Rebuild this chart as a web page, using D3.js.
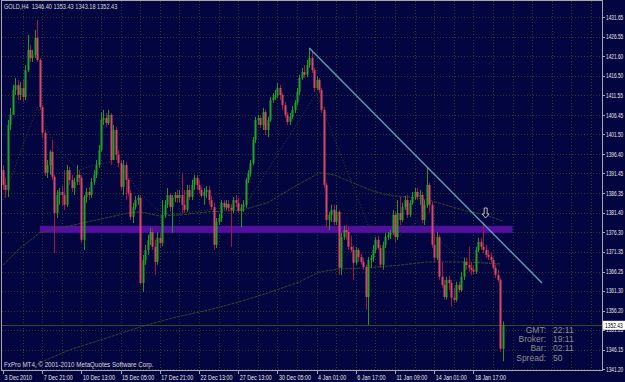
<!DOCTYPE html>
<html>
<head>
<meta charset="utf-8">
<script src="https://d3js.org/d3.v7.min.js"></script>
<style>
  html, body { margin: 0; padding: 0; background: #030540; }
  svg { display: block; font-family: "Liberation Sans", Arial, sans-serif; }
</style>
</head>
<body>
<div id="chart"></div>
<script>
// GOLD H4, one row per bar: [open, high, low, close]
const candles = [
  [1392.3,1393.6,1387.2,1388.5],[1388.5,1390.3,1385.2,1387.2],[1387.2,1405.2,1385.4,1403.9],[1403.9,1408.3,1402.6,1406.5],
  [1406.5,1414.2,1406.5,1412.9],[1412.9,1416.0,1411.6,1414.2],[1414.2,1415.5,1410.3,1411.6],[1411.6,1414.9,1410.3,1413.4],
  [1413.4,1415.5,1409.8,1411.1],[1411.1,1419.3,1410.3,1418.0],[1418.0,1427.0,1417.5,1423.2],[1423.2,1424.5,1420.1,1421.1],
  [1421.1,1423.2,1420.1,1421.9],[1421.9,1428.3,1421.1,1426.3],[1426.3,1430.9,1420.1,1420.6],[1420.6,1421.1,1407.8,1408.5],
  [1408.5,1409.0,1400.6,1401.9],[1401.9,1402.6,1390.8,1391.6],[1391.6,1394.9,1390.3,1393.6],[1393.6,1397.5,1391.1,1397.0],
  [1397.0,1400.1,1389.8,1390.6],[1390.6,1391.1,1371.0,1381.3],[1381.3,1387.2,1380.0,1385.9],[1385.9,1387.7,1383.4,1386.7],
  [1386.7,1388.2,1383.1,1385.9],[1385.9,1392.3,1382.1,1383.4],[1383.4,1393.6,1382.8,1392.3],[1392.3,1393.1,1388.5,1389.8],
  [1389.8,1391.1,1386.7,1387.7],[1387.7,1390.3,1385.9,1389.3],[1389.3,1393.6,1388.5,1391.1],[1391.1,1392.3,1388.5,1390.3],
  [1390.3,1390.8,1373.6,1374.4],[1374.4,1385.9,1371.8,1385.4],[1385.4,1387.7,1383.9,1386.7],[1386.7,1388.0,1384.6,1385.9],
  [1385.9,1390.3,1385.2,1389.3],[1389.3,1392.3,1388.5,1391.1],[1391.1,1394.9,1390.3,1393.6],[1393.6,1398.8,1392.9,1397.5],
  [1397.5,1407.2,1397.0,1405.2],[1405.2,1407.8,1403.9,1405.7],[1405.7,1407.0,1403.4,1404.4],[1404.4,1407.8,1403.9,1406.5],
  [1406.5,1407.0,1393.6,1394.9],[1394.9,1403.9,1394.9,1402.6],[1402.6,1403.4,1394.9,1396.2],[1396.2,1397.5,1393.1,1394.1],
  [1394.1,1394.9,1387.2,1388.0],[1388.0,1394.9,1385.9,1393.6],[1393.6,1394.4,1384.6,1389.8],[1389.8,1390.3,1385.7,1386.4],
  [1386.4,1387.2,1379.5,1380.3],[1380.3,1383.9,1378.7,1382.8],[1382.8,1385.7,1382.1,1384.6],[1384.6,1385.9,1383.4,1385.2],
  [1385.2,1385.9,1362.8,1363.3],[1363.3,1370.5,1361.0,1369.2],[1369.2,1373.1,1368.0,1371.8],[1371.8,1375.7,1370.5,1374.4],
  [1374.4,1377.5,1373.1,1376.4],[1376.4,1377.5,1371.8,1372.6],[1372.6,1374.4,1365.4,1368.7],[1368.7,1376.4,1368.0,1374.9],
  [1374.9,1376.2,1372.3,1373.6],[1373.6,1384.6,1372.8,1380.8],[1380.8,1384.6,1380.0,1383.4],[1383.4,1387.7,1382.6,1385.9],
  [1385.9,1386.4,1381.6,1382.8],[1382.8,1385.9,1376.2,1385.2],[1385.2,1386.7,1384.1,1385.9],[1385.9,1387.2,1383.9,1385.2],
  [1385.2,1387.2,1384.1,1385.9],[1385.9,1391.6,1381.3,1383.4],[1383.4,1387.2,1381.3,1382.1],[1382.1,1388.5,1381.6,1387.2],
  [1387.2,1388.5,1384.6,1385.4],[1385.4,1389.8,1384.6,1388.5],[1388.5,1391.1,1387.2,1390.3],[1390.3,1391.1,1387.2,1388.5],
  [1388.5,1389.8,1386.4,1387.2],[1387.2,1388.0,1385.2,1385.7],[1385.7,1387.7,1383.4,1386.7],[1386.7,1388.2,1385.2,1387.2],
  [1387.2,1388.2,1383.4,1384.6],[1384.6,1385.7,1382.1,1382.8],[1382.8,1383.9,1371.8,1373.1],[1373.1,1380.0,1372.3,1379.0],
  [1379.0,1381.1,1378.2,1380.0],[1380.0,1384.6,1379.0,1383.9],[1383.9,1384.6,1382.1,1382.8],[1382.8,1384.6,1382.1,1383.6],
  [1383.6,1384.6,1381.6,1382.6],[1382.6,1383.6,1372.6,1382.1],[1382.1,1385.4,1381.3,1384.6],[1384.6,1385.9,1382.8,1383.9],
  [1383.9,1385.2,1381.3,1381.8],[1381.8,1383.6,1377.7,1382.8],[1382.8,1384.6,1381.6,1383.4],[1383.4,1390.3,1382.6,1389.8],
  [1389.8,1392.3,1389.0,1391.6],[1391.6,1394.9,1390.6,1394.1],[1394.1,1400.8,1393.6,1400.1],[1400.1,1406.0,1399.3,1405.2],
  [1405.2,1406.5,1403.9,1405.7],[1405.7,1406.5,1403.1,1403.9],[1403.9,1408.3,1402.6,1407.2],[1407.2,1407.8,1401.3,1402.6],
  [1402.6,1406.0,1400.8,1405.2],[1405.2,1411.1,1404.7,1410.3],[1410.3,1412.1,1409.6,1411.1],[1411.1,1412.9,1410.3,1411.6],
  [1411.6,1414.7,1410.8,1413.4],[1413.4,1414.2,1410.3,1411.6],[1411.6,1412.1,1407.8,1409.0],[1409.0,1409.8,1405.7,1406.5],
  [1406.5,1407.2,1403.9,1404.7],[1404.7,1407.0,1403.9,1406.0],[1406.0,1408.8,1405.4,1407.8],[1407.8,1410.3,1407.0,1409.6],
  [1409.6,1413.4,1409.0,1412.4],[1412.4,1416.8,1411.6,1416.0],[1416.0,1418.6,1415.5,1417.5],[1417.5,1419.3,1416.0,1416.8],
  [1416.8,1420.6,1416.2,1419.3],[1419.3,1423.7,1418.6,1421.1],[1421.1,1422.7,1417.3,1418.0],[1418.0,1418.6,1412.4,1413.4],
  [1413.4,1416.5,1412.9,1415.5],[1415.5,1416.0,1412.1,1412.9],[1412.9,1413.4,1407.0,1407.8],[1407.8,1408.5,1387.7,1388.5],
  [1388.5,1389.0,1377.7,1379.5],[1379.5,1381.6,1376.9,1380.8],[1380.8,1383.4,1379.0,1382.1],[1382.1,1383.4,1378.2,1379.0],
  [1379.0,1383.4,1378.2,1381.6],[1381.6,1382.1,1365.4,1367.2],[1367.2,1376.2,1365.4,1375.1],[1375.1,1378.0,1374.4,1376.9],
  [1376.9,1378.2,1374.4,1376.4],[1376.4,1377.5,1371.8,1372.6],[1372.6,1375.4,1371.3,1371.8],[1371.8,1372.8,1364.1,1368.5],
  [1368.5,1372.6,1368.0,1371.8],[1371.8,1372.3,1368.7,1370.0],[1370.0,1370.8,1368.0,1368.7],[1368.7,1369.8,1366.7,1367.4],
  [1367.4,1368.0,1356.4,1359.7],[1359.7,1370.0,1352.5,1369.2],[1369.2,1370.5,1367.2,1369.8],[1369.8,1373.1,1368.7,1371.8],
  [1371.8,1375.1,1371.0,1374.4],[1374.4,1375.4,1371.8,1372.3],[1372.3,1373.1,1367.2,1368.0],[1368.0,1373.9,1366.7,1373.1],
  [1373.1,1376.2,1372.3,1375.1],[1375.1,1376.4,1374.4,1375.7],[1375.7,1376.9,1374.6,1376.2],[1376.2,1382.1,1375.7,1380.8],
  [1380.8,1381.6,1373.6,1375.1],[1375.1,1384.6,1374.4,1381.3],[1381.3,1385.4,1378.2,1379.5],[1379.5,1383.9,1379.0,1382.8],
  [1382.8,1385.7,1382.1,1384.6],[1384.6,1385.9,1380.0,1380.8],[1380.8,1384.6,1380.3,1383.9],[1383.9,1386.7,1383.4,1385.4],
  [1385.4,1387.7,1384.6,1386.7],[1386.7,1387.7,1384.6,1385.4],[1385.4,1387.2,1383.4,1385.9],[1385.9,1386.7,1378.7,1379.5],
  [1379.5,1384.6,1378.2,1383.4],[1383.4,1392.9,1382.6,1388.5],[1388.5,1389.0,1381.3,1383.4],[1383.4,1384.1,1372.3,1373.1],
  [1373.1,1376.2,1368.7,1369.8],[1369.8,1376.4,1369.2,1375.1],[1375.1,1375.7,1364.1,1364.9],[1364.9,1368.5,1362.1,1362.8],
  [1362.8,1364.1,1359.0,1359.7],[1359.7,1364.9,1359.0,1364.1],[1364.1,1365.1,1361.5,1363.3],[1363.3,1364.1,1357.2,1359.5],
  [1359.5,1362.1,1358.2,1359.0],[1359.0,1363.6,1358.5,1362.8],[1362.8,1363.6,1360.8,1361.5],[1361.5,1366.2,1361.0,1364.9],
  [1364.9,1369.8,1364.1,1368.7],[1368.7,1369.8,1366.7,1367.9],[1367.9,1372.6,1366.2,1367.2],[1367.2,1368.7,1365.4,1366.7],
  [1366.7,1367.9,1365.4,1366.2],[1366.2,1372.6,1365.6,1371.8],[1371.8,1374.9,1371.3,1373.9],[1373.9,1374.9,1371.8,1372.6],
  [1372.6,1379.0,1371.0,1371.8],[1371.8,1373.1,1369.7,1370.5],[1370.5,1371.8,1369.2,1370.0],[1370.0,1371.0,1368.5,1369.2],
  [1369.2,1369.8,1366.7,1367.2],[1367.2,1367.9,1364.6,1365.4],[1365.4,1366.7,1363.6,1364.1],[1364.1,1364.6,1345.6,1346.4],
  [1346.40,1353.43,1343.18,1352.43]
];

// indicator lines, [bar index, price]
const maFast = [[0,1367.9],[7,1372.3],[15,1376.2],[22,1377.2],[31,1378.5],[44,1380.3],[51,1381.3],[56,1381.6],
  [64,1380.5],[73,1380.8],[84,1381.6],[98,1382.1],[108,1383.9],[118,1387.7],[129,1391.6],[135,1391.1],[140,1389.8],
  [151,1386.9],[159,1385.7],[166,1385.4],[174,1384.6],[189,1381.8],[197,1380.8],[204,1379.2]];
const maSlow = [[13,1340.4],[14,1342.5],[27,1346.1],[40,1348.7],[56,1352.0],[69,1354.3],[84,1356.4],[95,1358.2],
  [108,1360.7],[121,1363.6],[129,1366.1],[137,1366.9],[149,1367.2],[162,1367.9],[173,1368.7],[189,1368.7],[203,1368.2]];
const zigzag = [[0,1384.6],[7,1396.7],[14,1408.5],[16,1406.0],[20,1400.0],[24,1396.7],[31,1392.3],[37,1393.6],
  [44,1394.4],[50,1391.8],[56,1386.4],[63,1382.1],[68,1380.8],[99,1383.4],[128,1412.1],[149,1378.2],[161,1375.1],
  [169,1379.0],[180,1373.1],[186,1370.0],[203,1367.7]];

// drawn objects
const trendLine = [[125,1423.7],[220,1363.3]];
const zoneBars = [15, 208];
const zonePrices = [1378.0, 1376.2];
const arrowMark = [197, 1380.0];

const priceTicks = [1431.65,1426.55,1421.60,1416.50,1411.55,1406.45,1401.50,1396.40,1391.45,1386.35,
  1381.40,1376.30,1371.35,1366.25,1361.30,1356.20,1351.25,1346.15,1341.20];
const timeTicks = ["3 Dec 2010","7 Dec 21:00","10 Dec 13:00","15 Dec 05:00","17 Dec 21:00","22 Dec 13:00",
  "27 Dec 13:00","30 Dec 05:00","4 Jan 01:00","6 Jan 17:00","11 Jan 09:00","14 Jan 01:00","18 Jan 17:00"];
const barsPerLabel = 16;

const infoNames = ["GMT:", "Broker:", "Bar:", "Spread:"];
const infoValues = ["22:11", "19:11", "02:11", "50"];

const W = 625, H = 382;
const bg = '#030540';
const box = {left: 2, top: 1, right: 602, bottom: 370};

// squeeze a text horizontally, the terminal font is narrow
function squeeze(sel, k) {
    sel.each(function() {
        let len = this.getComputedTextLength();
        d3.select(this).attr('textLength', len * k).attr('lengthAdjust', 'spacingAndGlyphs');
    });
}

let svg = d3.select('#chart').append('svg')
    .attr('width', W)
    .attr('height', H);

svg.append('rect').attr('width', W).attr('height', H).attr('fill', bg);

let x = d3.scaleLinear()
    .domain([0, candles.length - 1])
    .range([3, 3 + 2.45 * (candles.length - 1)]);

let y = d3.scaleLinear()
    .domain([priceTicks[priceTicks.length - 1], priceTicks[0]])
    .range([369, 17]);

svg.append('defs').append('clipPath').attr('id', 'plotclip')
    .append('rect')
    .attr('x', box.left).attr('y', box.top)
    .attr('width', box.right - box.left).attr('height', box.bottom - box.top);

let plot = svg.append('g').attr('clip-path', 'url(#plotclip)');

// grid
plot.selectAll('.hgrid')
    .data(priceTicks)
    .enter()
    .append('line')
    .attr('x1', box.left).attr('x2', box.right)
    .attr('y1', d => Math.round(y(d)) + 0.5)
    .attr('y2', d => Math.round(y(d)) + 0.5)
    .attr('stroke', '#2c3b27')
    .attr('stroke-dasharray', '1,2');

let gridBars = d3.range(8, 260, 8).filter(i => x(i) < box.right - 1);
plot.selectAll('.vgrid')
    .data(gridBars)
    .enter()
    .append('line')
    .attr('x1', d => Math.round(x(d)) + 0.5)
    .attr('x2', d => Math.round(x(d)) + 0.5)
    .attr('y1', box.top).attr('y2', box.bottom)
    .attr('stroke', '#2c3b27')
    .attr('stroke-dasharray', '1,2');

// support zone
plot.append('rect')
    .attr('x', x(zoneBars[0]))
    .attr('width', x(zoneBars[1]) - x(zoneBars[0]))
    .attr('y', y(zonePrices[0]))
    .attr('height', y(zonePrices[1]) - y(zonePrices[0]))
    .attr('fill', '#520e9e');

// indicators
let line = d3.line().x(d => x(d[0])).y(d => y(d[1]));

plot.append('path').attr('d', line(maSlow))
    .attr('fill', 'none').attr('stroke', '#36452a').attr('stroke-width', 1)
    .attr('stroke-dasharray', '3,1');
plot.append('path').attr('d', line(maFast))
    .attr('fill', 'none').attr('stroke', '#36452a').attr('stroke-width', 1)
    .attr('stroke-dasharray', '3,1');
plot.append('path').attr('d', line(zigzag))
    .attr('fill', 'none').attr('stroke', '#34442a').attr('stroke-width', 1)
    .attr('stroke-dasharray', '1,2');

// bid line
let last = candles[candles.length - 1];
plot.append('line')
    .attr('x1', box.left).attr('x2', box.right)
    .attr('y1', Math.round(y(last[3])) + 0.5).attr('y2', Math.round(y(last[3])) + 0.5)
    .attr('stroke', '#3a4628');

// candles
let bars = plot.selectAll('.bar')
    .data(candles)
    .enter()
    .append('g');

bars.append('line')
    .attr('x1', (d, i) => Math.round(x(i)) + 0.5)
    .attr('x2', (d, i) => Math.round(x(i)) + 0.5)
    .attr('y1', d => y(d[1]))
    .attr('y2', d => y(d[2]))
    .attr('stroke', d => d[3] >= d[0] ? '#1f9a1f' : '#a8163a');

bars.append('rect')
    .attr('x', (d, i) => Math.round(x(i)) - 0.5)
    .attr('width', 2)
    .attr('y', d => y(Math.max(d[0], d[3])))
    .attr('height', d => Math.max(1, Math.abs(y(d[0]) - y(d[3]))))
    .attr('fill', d => d[3] >= d[0] ? '#22a422' : '#dc4864');

// trend line
plot.append('path').attr('d', line(trendLine))
    .attr('fill', 'none').attr('stroke', '#5d9fb2').attr('stroke-width', 1.4);

// arrow object
let ax = x(arrowMark[0]), ay = y(arrowMark[1]);
plot.append('path')
    .attr('d', `M${ax},${ay} l-3.5,-4 h2 v-6 h3 v6 h2 z`)
    .attr('fill', bg).attr('stroke', '#d8d0b8').attr('stroke-width', 0.9);

// frame
svg.append('rect')
    .attr('x', box.left - 0.5).attr('y', box.top - 0.5)
    .attr('width', box.right - box.left + 1).attr('height', box.bottom - box.top + 1)
    .attr('fill', 'none').attr('stroke', '#a8a8a8');

// price axis
svg.selectAll('.ptick')
    .data(priceTicks)
    .enter()
    .append('line')
    .attr('x1', box.right).attr('x2', box.right + 3)
    .attr('y1', d => Math.round(y(d)) + 0.5).attr('y2', d => Math.round(y(d)) + 0.5)
    .attr('stroke', '#a8a8a8');

svg.selectAll('.plabel')
    .data(priceTicks)
    .enter()
    .append('text')
    .attr('x', box.right + 4)
    .attr('y', d => y(d) + 2.5)
    .attr('font-size', 7)
    .attr('fill', '#e6e6e6')
    .text(d => d.toFixed(2))
    .call(squeeze, 0.68);

// current price tag, drawn over the tick label it lands on
svg.append('rect')
    .attr('x', box.right + 1).attr('y', y(last[3]) - 4.5)
    .attr('width', W - box.right).attr('height', 9)
    .attr('fill', '#ffffff');
svg.append('text')
    .attr('x', box.right + 3).attr('y', y(last[3]) + 2.5)
    .attr('font-size', 7).attr('fill', '#000000')
    .text(last[3].toFixed(2))
    .call(squeeze, 0.7);

// time axis
let tickBars = timeTicks.map((t, i) => i * barsPerLabel);
svg.selectAll('.ttick')
    .data(tickBars)
    .enter()
    .append('line')
    .attr('x1', d => Math.round(x(d)) + 0.5).attr('x2', d => Math.round(x(d)) + 0.5)
    .attr('y1', box.bottom).attr('y2', box.bottom + 4)
    .attr('stroke', '#a8a8a8');

svg.selectAll('.tlabel')
    .data(timeTicks)
    .enter()
    .append('text')
    .attr('x', (d, i) => x(tickBars[i]) + 1.5)
    .attr('y', 380)
    .attr('font-size', 7)
    .attr('fill', '#e6e6e6')
    .text(d => d)
    .call(squeeze, 0.77);

// header and footer
svg.append('text')
    .attr('x', 4).attr('y', 9)
    .attr('font-size', 7).attr('fill', '#d8d8d8')
    .attr('xml:space', 'preserve')
    .text('GOLD,H4  ' + last.map(v => v.toFixed(2)).join(' '))
    .call(squeeze, 0.8);

svg.append('text')
    .attr('x', 4).attr('y', 367)
    .attr('font-size', 8).attr('fill', '#d8d8d8')
    .text('FxPro MT4, \u00a9 2001-2010 MetaQuotes Software Corp.')
    .call(squeeze, 0.78);

// clock panel
let info = svg.append('g');
info.selectAll('.iname')
    .data(infoNames)
    .enter()
    .append('text')
    .attr('x', 546)
    .attr('y', (d, i) => 333 + i * 9.2)
    .attr('text-anchor', 'end')
    .attr('font-size', 8.5)
    .attr('fill', '#8c8c8c')
    .text(d => d);
info.selectAll('.ivalue')
    .data(infoValues)
    .enter()
    .append('text')
    .attr('x', 553)
    .attr('y', (d, i) => 333 + i * 9.2)
    .attr('font-size', 8.5)
    .attr('fill', '#8c8c8c')
    .text(d => d);
</script>
</body>
</html>
